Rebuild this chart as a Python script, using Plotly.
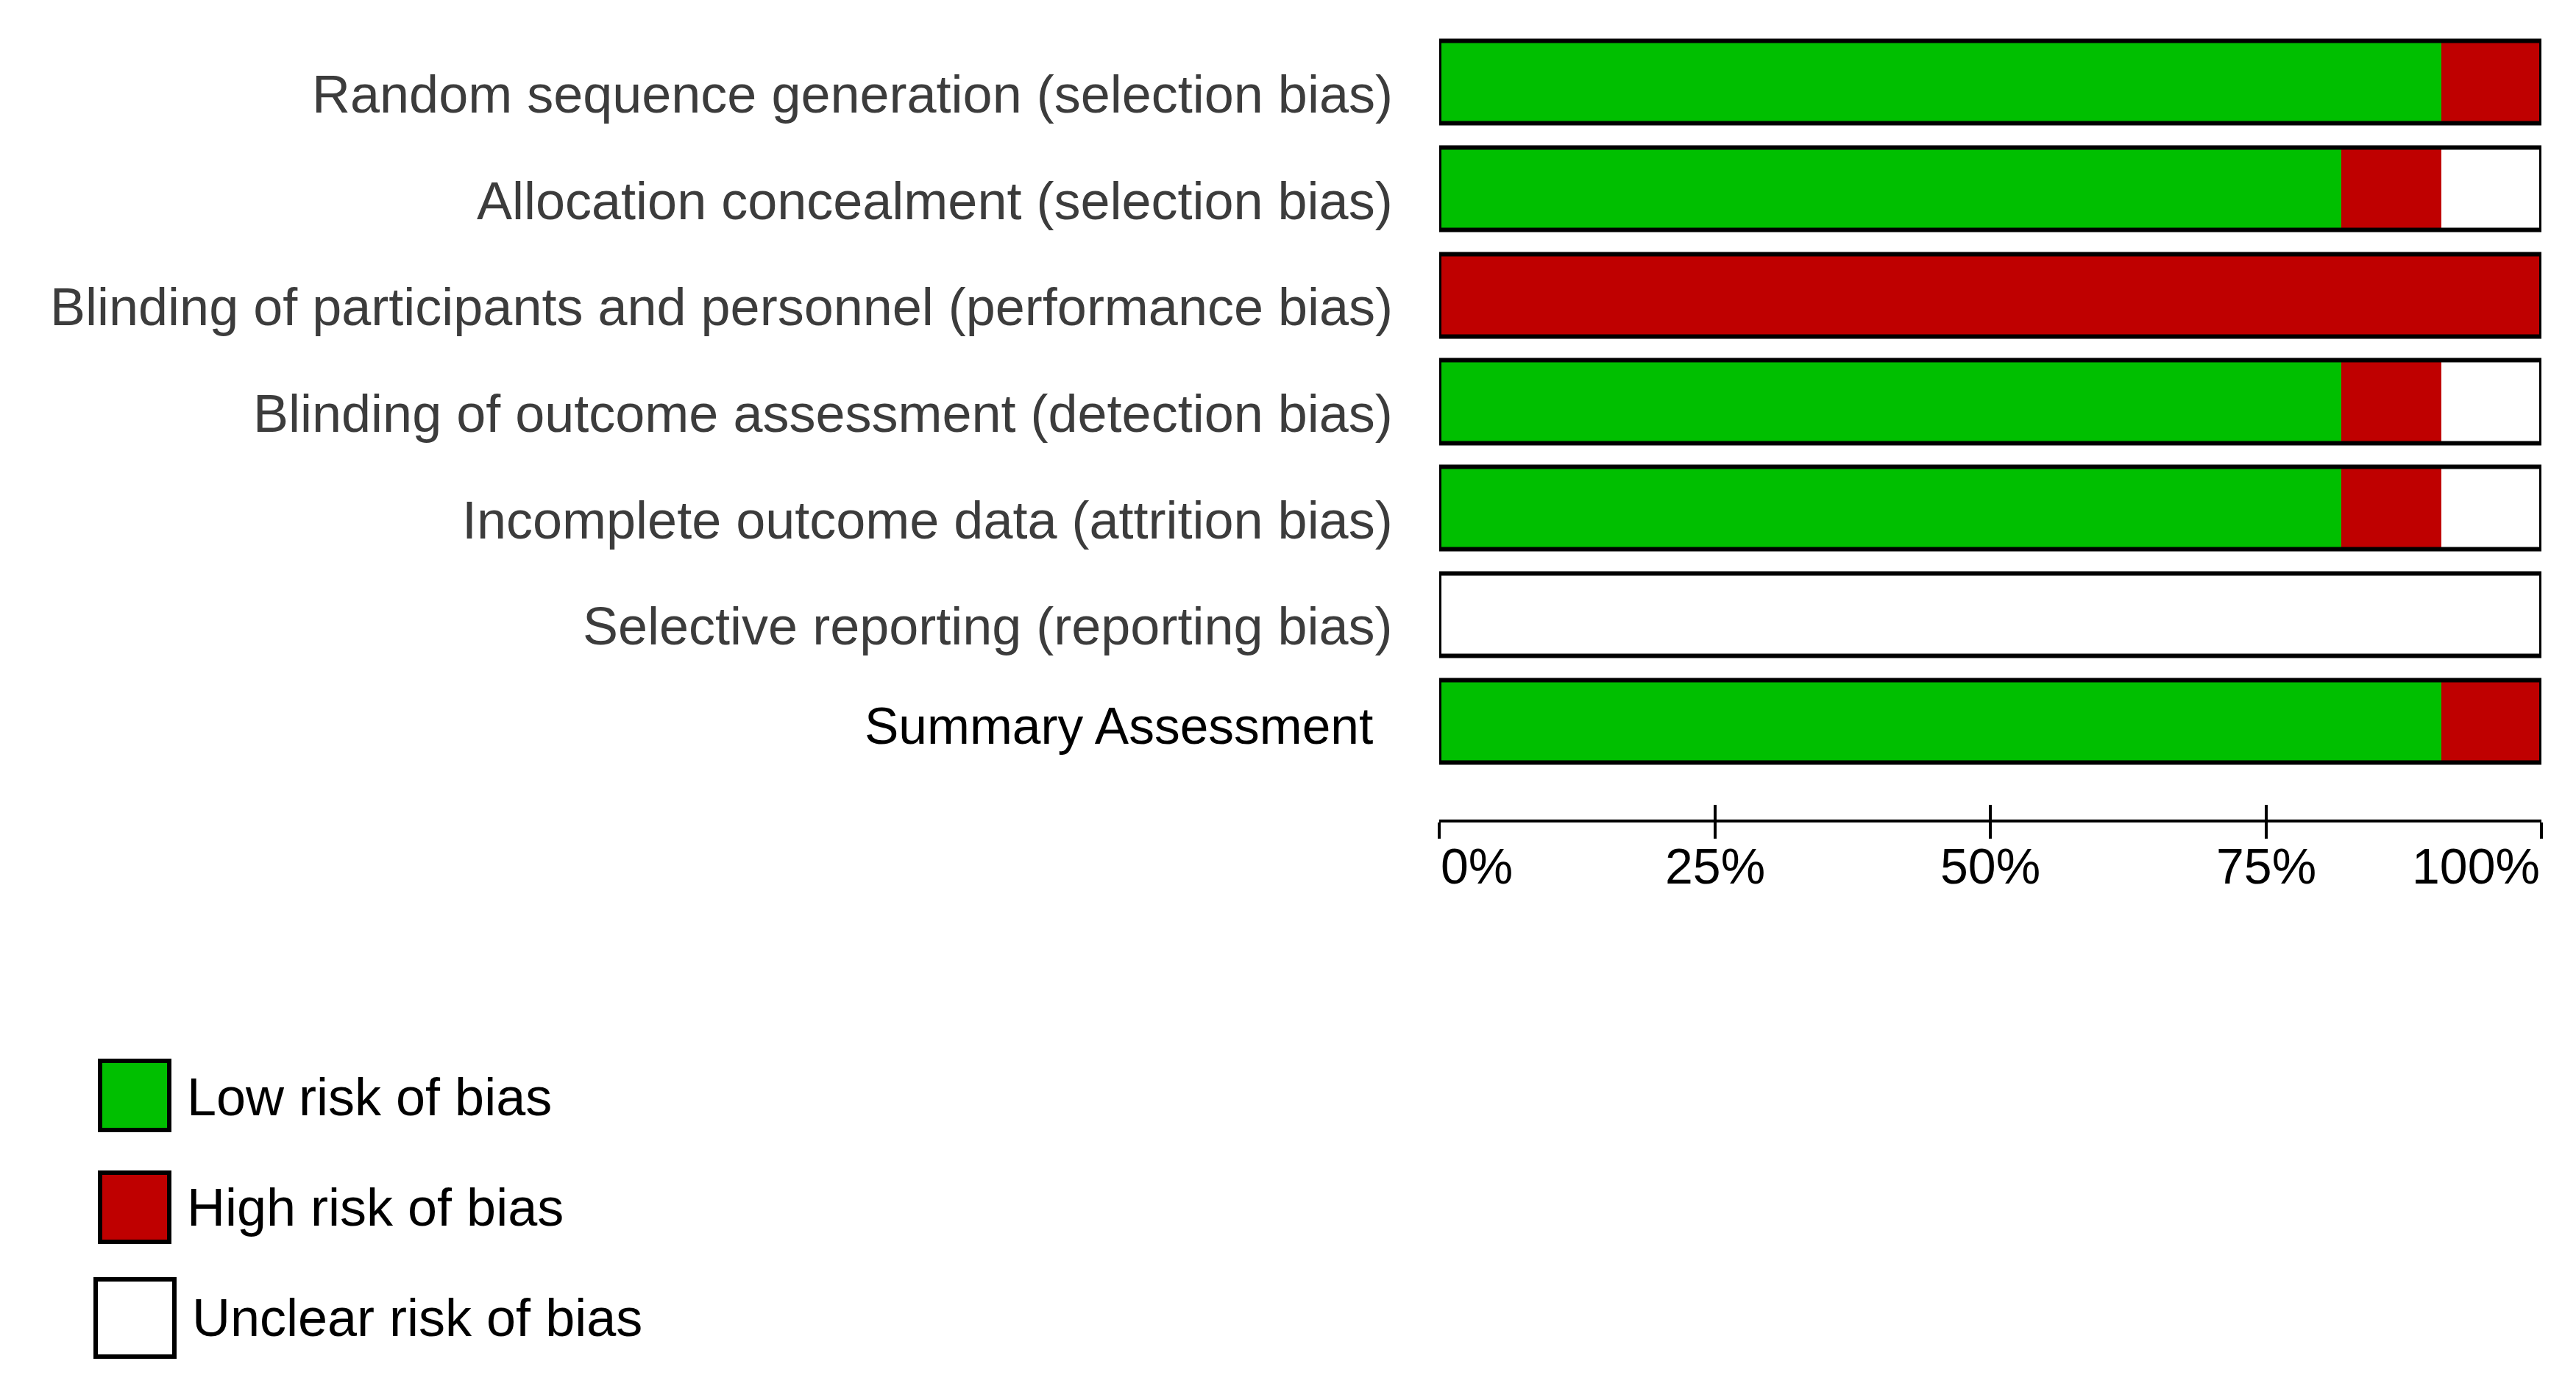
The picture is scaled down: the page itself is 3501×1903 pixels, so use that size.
import plotly.graph_objects as go

# ---- data (counts of studies per judgement, 11 studies) ----
domains = [
    "Random sequence generation (selection bias)",
    "Allocation concealment (selection bias)",
    "Blinding of participants and personnel (performance bias)",
    "Blinding of outcome assessment (detection bias)",
    "Incomplete outcome data (attrition bias)",
    "Selective reporting (reporting bias)",
    "Summary Assessment",
]
low_risk = [10, 9, 0, 9, 9, 0, 10]
high_risk = [1, 1, 11, 1, 1, 0, 1]
unclear_risk = [0, 1, 0, 1, 1, 11, 0]
n_studies = 11

tick_values = [0, 25, 50, 75, 100]
tick_labels = ["0%", "25%", "50%", "75%", "100%"]
legend_labels = ["Low risk of bias", "High risk of bias", "Unclear risk of bias"]

GREEN = "#00BF00"
RED = "#BF0000"
WHITE = "#FFFFFF"

W, H = 3501, 1903
OFF = 8  # page body margin offset
FONT = "Liberation Sans, Arial, sans-serif"


def px_x(p):
    return (p - OFF) / W


def px_y(p):
    return 1 - (p - OFF) / H


def pct(v):
    return [x * 100.0 / n_studies for x in v]


low_p = pct(low_risk)
high_p = pct(high_risk)
unc_p = pct(unclear_risk)
base_high = low_p
base_unc = [a + b for a, b in zip(low_p, high_p)]
total_p = [a + b + c for a, b, c in zip(low_p, high_p, unc_p)]

BW = 0.775
fig = go.Figure()
for vals, base, col, name in [
    (low_p, [0] * len(low_p), GREEN, legend_labels[0]),
    (high_p, base_high, RED, legend_labels[1]),
    (unc_p, base_unc, WHITE, legend_labels[2]),
]:
    fig.add_trace(go.Bar(
        y=domains, x=vals, base=base, orientation="h", width=BW,
        marker=dict(color=col, line=dict(width=0)),
        name=name, showlegend=False, hoverinfo="skip",
    ))
# outline of each full bar
fig.add_trace(go.Bar(
    y=domains, x=total_p, base=[0] * len(total_p), orientation="h", width=BW,
    marker=dict(color="rgba(0,0,0,0)", line=dict(color="black", width=6)),
    showlegend=False, hoverinfo="skip",
))

# geometry (pixels in reference)
x0_px, x1_px = 1956, 3454
y_top_px, y_bot_px = 39.5, 1052.5
axis_y_px = 1116

annotations = []
for i, d in enumerate(domains):
    is_summary = d == "Summary Assessment"
    annotations.append(dict(
        x=px_x(1868 if is_summary else 1895), xref="paper", xanchor="right",
        y=d, yref="y", yanchor="middle", yshift=(-7 if is_summary else -16),
        text=d, showarrow=False,
        font=dict(family=FONT, size=69.5 if is_summary else 72,
                  color="#000000" if is_summary else "#3c3c3c"),
    ))

anchors = ["left", "center", "center", "center", "right"]
for v, lab, anc in zip(tick_values, tick_labels, anchors):
    annotations.append(dict(
        x=v, xref="x", xanchor=anc, y=px_y(1177), yref="paper", yanchor="middle",
        text=lab, showarrow=False, font=dict(family=FONT, size=68, color="black"),
    ))

# legend (drawn manually)
shapes = []
legend_boxes = [
    (136, 230, 1442, 1536, GREEN),
    (136, 230, 1594, 1688, RED),
    (130, 237, 1739, 1844, WHITE),
]
legend_text = [(252, 1491), (252, 1641), (259, 1791)]
for (xa, xb, ya, yb, col), lab, (tx, ty) in zip(legend_boxes, legend_labels, legend_text):
    shapes.append(dict(type="rect", xref="paper", yref="paper",
                       x0=px_x(xa), x1=px_x(xb), y0=px_y(yb), y1=px_y(ya),
                       fillcolor=col, line=dict(color="black", width=6)))
    annotations.append(dict(x=px_x(tx), xref="paper", xanchor="left",
                            y=px_y(ty), yref="paper", yanchor="middle",
                            text=lab, showarrow=False,
                            font=dict(family=FONT, size=72, color="black")))

fig.update_layout(
    width=W, height=H,
    margin=dict(l=0, r=0, t=0, b=0),
    paper_bgcolor="white", plot_bgcolor="white",
    barmode="overlay",
    bargap=0,
    xaxis=dict(domain=[px_x(x0_px), px_x(x1_px)], range=[0, 100],
               anchor="free", position=px_y(axis_y_px),
               showline=True, linecolor="black", linewidth=4,
               ticks="outside", ticklen=22, tickwidth=4, tickcolor="black",
               tickvals=tick_values, showticklabels=False,
               showgrid=False, zeroline=False, fixedrange=True),
    xaxis2=dict(domain=[px_x(x0_px), px_x(x1_px)], range=[0, 100],
                overlaying="x", anchor="free", position=px_y(axis_y_px),
                showline=False,
                ticks="inside", ticklen=22, tickwidth=4, tickcolor="black",
                tickvals=tick_values, showticklabels=False,
                showgrid=False, zeroline=False, fixedrange=True),
    yaxis=dict(domain=[px_y(y_bot_px), px_y(y_top_px)],
               categoryorder="array", categoryarray=domains,
               autorange="reversed", showticklabels=False,
               showgrid=False, zeroline=False, showline=False, fixedrange=True),
    annotations=annotations,
    shapes=shapes,
)

# invisible trace to instantiate xaxis2
fig.add_trace(go.Scatter(x=[0, 100], y=[domains[0], domains[0]], xaxis="x2",
                         mode="markers", marker=dict(opacity=0),
                         showlegend=False, hoverinfo="skip"))

fig.write_html("out.html")
